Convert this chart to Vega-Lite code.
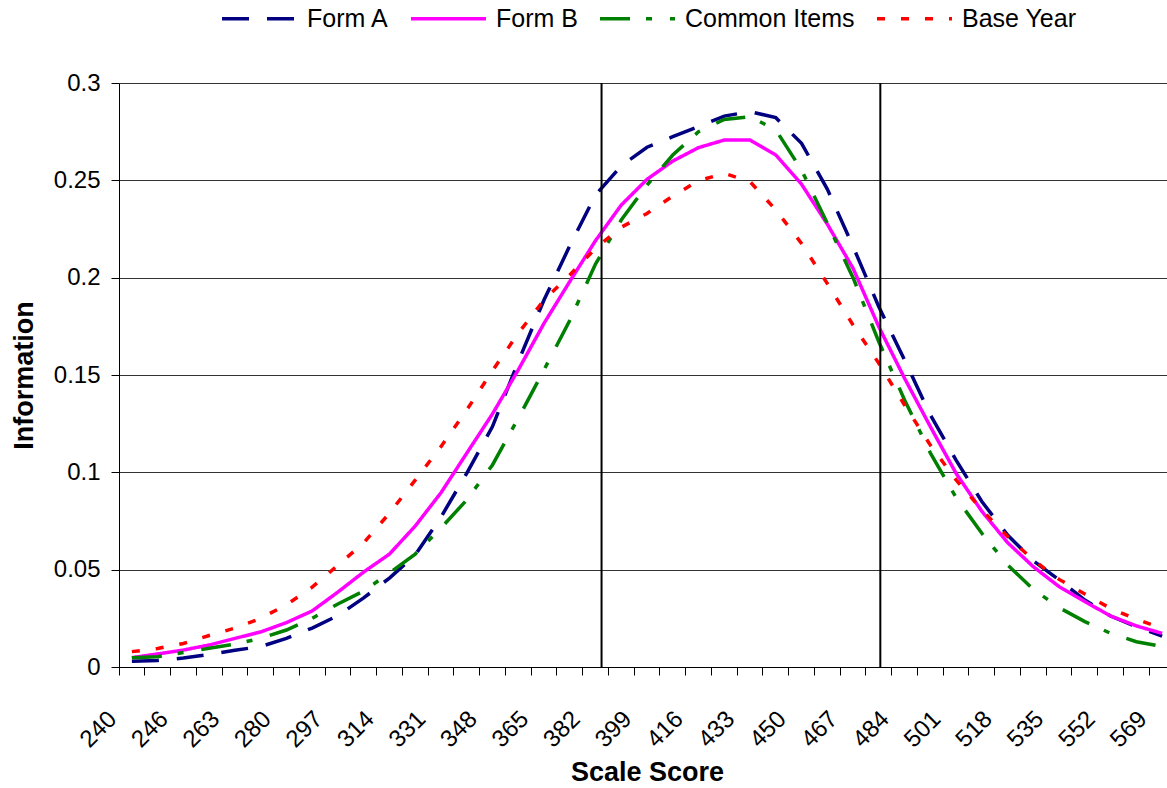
{
  "$schema": "https://vega.github.io/schema/vega-lite/v6.json",
  "width": 1048,
  "height": 584,
  "autosize": {"type": "none"},
  "padding": {"left": 119, "top": 83, "right": 0, "bottom": 121},
  "background": "white",
  "config": {
    "view": {"stroke": null},
    "font": "Liberation Sans",
    "axis": {
      "labelFont": "Liberation Sans",
      "titleFont": "Liberation Sans",
      "labelColor": "black",
      "titleColor": "black",
      "domainColor": "black",
      "tickColor": "black",
      "labelFontSize": 24,
      "titleFontSize": 27,
      "titleFontWeight": "bold"
    },
    "legend": {
      "labelFont": "Liberation Sans",
      "labelFontSize": 25,
      "labelColor": "black",
      "labelLimit": 400,
      "symbolType": "stroke",
      "symbolSize": 5625,
      "symbolStrokeWidth": 3.5,
      "labelOffset": 8,
      "columnPadding": 15,
      "padding": 0
    }
  },
  "layer": [
    {
      "data": {
        "values": [
          {"score": 240, "Form A": 0.0030, "Form B": 0.0048, "Common Items": 0.0048, "Base Year": 0.0079},
          {"score": 243, "Form A": 0.0034, "Form B": 0.0067, "Common Items": 0.0053, "Base Year": 0.0095},
          {"score": 246, "Form A": 0.0046, "Form B": 0.0087, "Common Items": 0.0074, "Base Year": 0.0121},
          {"score": 254.5, "Form A": 0.0065, "Form B": 0.0113, "Common Items": 0.0096, "Base Year": 0.0162},
          {"score": 263, "Form A": 0.0086, "Form B": 0.0147, "Common Items": 0.0118, "Base Year": 0.0200},
          {"score": 271.5, "Form A": 0.0105, "Form B": 0.0180, "Common Items": 0.0147, "Base Year": 0.0250},
          {"score": 280, "Form A": 0.0147, "Form B": 0.0228, "Common Items": 0.0190, "Base Year": 0.0320},
          {"score": 288.5, "Form A": 0.0200, "Form B": 0.0288, "Common Items": 0.0250, "Base Year": 0.0410},
          {"score": 297, "Form A": 0.0264, "Form B": 0.0385, "Common Items": 0.0324, "Base Year": 0.0523},
          {"score": 305.5, "Form A": 0.0355, "Form B": 0.0488, "Common Items": 0.0390, "Base Year": 0.0638},
          {"score": 314, "Form A": 0.0457, "Form B": 0.0580, "Common Items": 0.0483, "Base Year": 0.0790},
          {"score": 322.5, "Form A": 0.0575, "Form B": 0.0724, "Common Items": 0.0580, "Base Year": 0.0960},
          {"score": 331, "Form A": 0.0770, "Form B": 0.0895, "Common Items": 0.0714, "Base Year": 0.1132},
          {"score": 339.5, "Form A": 0.0995, "Form B": 0.1098, "Common Items": 0.0858, "Base Year": 0.1320},
          {"score": 348, "Form A": 0.1235, "Form B": 0.1300, "Common Items": 0.1038, "Base Year": 0.1522},
          {"score": 356.5, "Form A": 0.1568, "Form B": 0.1526, "Common Items": 0.1277, "Base Year": 0.1714},
          {"score": 365, "Form A": 0.1885, "Form B": 0.1765, "Common Items": 0.1526, "Base Year": 0.1885},
          {"score": 373.5, "Form A": 0.2163, "Form B": 0.1980, "Common Items": 0.1780, "Base Year": 0.2014},
          {"score": 382, "Form A": 0.2425, "Form B": 0.2190, "Common Items": 0.2070, "Base Year": 0.2150},
          {"score": 390.5, "Form A": 0.2574, "Form B": 0.2373, "Common Items": 0.2296, "Base Year": 0.2259},
          {"score": 399, "Form A": 0.2670, "Form B": 0.2505, "Common Items": 0.2476, "Base Year": 0.2330},
          {"score": 407.5, "Form A": 0.2724, "Form B": 0.2599, "Common Items": 0.2630, "Base Year": 0.2419},
          {"score": 416, "Form A": 0.2776, "Form B": 0.2668, "Common Items": 0.2750, "Base Year": 0.2498},
          {"score": 424.5, "Form A": 0.2830, "Form B": 0.2707, "Common Items": 0.2813, "Base Year": 0.2536},
          {"score": 433, "Form A": 0.2853, "Form B": 0.2707, "Common Items": 0.2827, "Base Year": 0.2493},
          {"score": 441.5, "Form A": 0.2822, "Form B": 0.2630, "Common Items": 0.2759, "Base Year": 0.2348},
          {"score": 450, "Form A": 0.2690, "Form B": 0.2480, "Common Items": 0.2553, "Base Year": 0.2176},
          {"score": 458.5, "Form A": 0.2455, "Form B": 0.2275, "Common Items": 0.2280, "Base Year": 0.1970},
          {"score": 467, "Form A": 0.2160, "Form B": 0.2048, "Common Items": 0.2000, "Base Year": 0.1757},
          {"score": 475.5, "Form A": 0.1851, "Form B": 0.1748, "Common Items": 0.1671, "Base Year": 0.1560},
          {"score": 484, "Form A": 0.1577, "Form B": 0.1483, "Common Items": 0.1372, "Base Year": 0.1346},
          {"score": 492.5, "Form A": 0.1295, "Form B": 0.1235, "Common Items": 0.1100, "Base Year": 0.1140},
          {"score": 501, "Form A": 0.1063, "Form B": 0.0995, "Common Items": 0.0870, "Base Year": 0.0961},
          {"score": 509.5, "Form A": 0.0850, "Form B": 0.0800, "Common Items": 0.0687, "Base Year": 0.0807},
          {"score": 518, "Form A": 0.0678, "Form B": 0.0639, "Common Items": 0.0524, "Base Year": 0.0670},
          {"score": 526.5, "Form A": 0.0546, "Form B": 0.0515, "Common Items": 0.0399, "Base Year": 0.0550},
          {"score": 535, "Form A": 0.0447, "Form B": 0.0413, "Common Items": 0.0305, "Base Year": 0.0450},
          {"score": 543.5, "Form A": 0.0344, "Form B": 0.0336, "Common Items": 0.0233, "Base Year": 0.0375},
          {"score": 552, "Form A": 0.0262, "Form B": 0.0262, "Common Items": 0.0173, "Base Year": 0.0301},
          {"score": 560.5, "Form A": 0.0207, "Form B": 0.0211, "Common Items": 0.0130, "Base Year": 0.0245},
          {"score": 569, "Form A": 0.0159, "Form B": 0.0173, "Common Items": 0.0105, "Base Year": 0.0199}
        ]
      },
      "transform": [
        {"fold": ["Form A", "Form B", "Common Items", "Base Year"], "as": ["series", "info"]}
      ],
      "mark": {"type": "line", "strokeWidth": 3.5},
      "encoding": {
        "x": {
          "field": "score",
          "type": "ordinal",
          "scale": {"type": "band", "paddingInner": 0, "paddingOuter": 0, "range": [0, 1056]},
          "axis": {
            "title": "Scale Score",
            "bandPosition": 0,
            "grid": false,
            "labelAngle": -45,
            "labelAlign": "right",
            "labelBaseline": "middle",
            "labelPadding": 40,
            "labelOffset": -19,
            "labelOverlap": false,
            "labelExpr": "round(datum.index * 40) % 2 ? '' : datum.label",
            "tickSize": 8,
            "tickWidth": 1,
            "domainWidth": 1,
            "titleX": 528,
            "titleY": 113,
            "titleBaseline": "alphabetic",
            "titleAlign": "center"
          }
        },
        "y": {
          "field": "info",
          "type": "quantitative",
          "scale": {"domain": [0, 0.3], "nice": false, "zero": true},
          "axis": {
            "title": "Information",
            "values": [0, 0.05, 0.1, 0.15, 0.2, 0.25, 0.3],
            "format": "~g",
            "grid": true,
            "gridColor": "#333333",
            "gridWidth": 1,
            "tickSize": 8,
            "tickWidth": 1,
            "domainWidth": 1,
            "labelPadding": 11,
            "titleX": -87,
            "titleY": 292,
            "titleAngle": 270,
            "titleBaseline": "alphabetic",
            "titleAlign": "center"
          }
        },
        "color": {
          "field": "series",
          "type": "nominal",
          "scale": {
            "domain": ["Form A", "Form B", "Common Items", "Base Year"],
            "range": ["#000080", "#FF00FF", "#008000", "#FF0000"]
          },
          "legend": {"title": null, "orient": "none", "legendX": 101, "legendY": -104, "direction": "horizontal"}
        },
        "strokeDash": {
          "field": "series",
          "type": "nominal",
          "scale": {
            "domain": ["Form A", "Form B", "Common Items", "Base Year"],
            "range": [[27, 18], [1, 0], [30, 16, 6, 18], [8, 16]]
          },
          "legend": {"title": null, "orient": "none", "legendX": 101, "legendY": -104, "direction": "horizontal"}
        }
      }
    },
    {
      "data": {"values": [{"cut": 384}, {"cut": 476}]},
      "mark": {"type": "rule", "color": "black", "strokeWidth": 2},
      "encoding": {
        "x": {
          "field": "cut",
          "type": "quantitative",
          "scale": {"domain": [224.75, 573.25], "range": [0, 1056], "nice": false, "zero": false},
          "axis": null
        }
      }
    }
  ],
  "resolve": {"scale": {"x": "independent"}}
}
